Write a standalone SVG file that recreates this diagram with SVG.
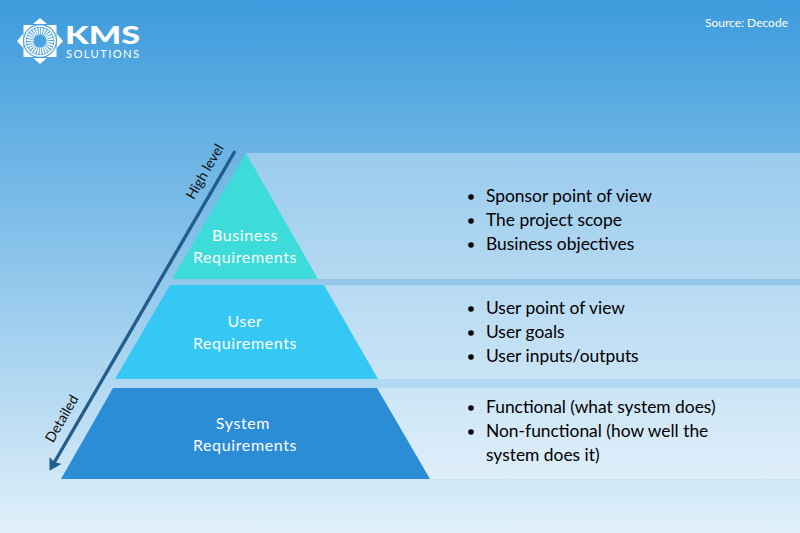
<svg xmlns="http://www.w3.org/2000/svg" width="800" height="533" viewBox="0 0 800 533">
  <style>
    .band { fill: #ffffff; fill-opacity: .32; }
    .tier { fill: #ffffff; font: 16px Lato, "Liberation Sans", sans-serif; text-anchor: middle; letter-spacing: .62px; }
    .item { fill: #000000; font: 17.4px Lato, "Liberation Sans", sans-serif; }
    .side { fill: #111111; font: 14px Lato, "Liberation Sans", sans-serif; text-anchor: middle; }
    .dot { fill: #000000; }
  </style>
  <defs>
    <linearGradient id="sky" x1="0" y1="0" x2="0" y2="1">
      <stop offset="0" stop-color="#3c9bdc"/>
      <stop offset="1" stop-color="#e0f0fa"/>
    </linearGradient>
    <marker id="head" markerUnits="userSpaceOnUse" markerWidth="14" markerHeight="16" refX="3" refY="7" orient="auto">
      <path d="M0 0L12 7L0 14L2 7Z" fill="#235d8c"/>
    </marker>
  </defs>
  <rect width="800" height="533" fill="url(#sky)"/>

  <g id="logo" fill="#ffffff">
    <path d="M40 18L47 24H33Z"/>
    <path d="M40 64L47 58H33Z"/>
    <path d="M17 41L23 34V48Z"/>
    <path d="M63 41L57 34V48Z"/>
    <rect x="23.5" y="25" width="33" height="32"/>
    <circle cx="40" cy="41" r="17" fill="#4ba2e0"/>
    <circle cx="40" cy="41" r="15" fill="none" stroke="#ffffff" stroke-width="1.6"/>
    <circle cx="40" cy="41" r="10" fill="none" stroke="#ffffff" stroke-width="7" stroke-dasharray="1.5 .9"/>
    <text x="65" y="43.5" font-family="Lato, 'Liberation Sans', sans-serif" font-size="24" font-weight="900" textLength="75" lengthAdjust="spacingAndGlyphs">KMS</text>
    <text x="66" y="57.5" font-family="Lato, 'Liberation Sans', sans-serif" font-size="11.2" textLength="73" lengthAdjust="spacing">SOLUTIONS</text>
  </g>

  <text x="705" y="27" fill="#ffffff" font-family="Lato, 'Liberation Sans', sans-serif" font-size="12">Source: Decode</text>

  <g id="bands">
    <rect class="band" x="246" y="153" width="554" height="126"/>
    <rect class="band" x="318" y="285" width="482" height="94"/>
    <rect class="band" x="378" y="388" width="422" height="91"/>
  </g>

  <g id="business">
    <path d="M246 153L318 279H172Z" fill="#3ddbd9"/>
    <text class="tier" x="245" y="241">Business</text>
    <text class="tier" x="245" y="263">Requirements</text>
    <circle class="dot" cx="471" cy="197" r="2.8"/>
    <circle class="dot" cx="471" cy="221" r="2.8"/>
    <circle class="dot" cx="471" cy="245" r="2.8"/>
    <text class="item" x="486" y="202">Sponsor point of view</text>
    <text class="item" x="486" y="226">The project scope</text>
    <text class="item" x="486" y="250">Business objectives</text>
  </g>

  <g id="user">
    <path d="M170 285H324L378 379H115Z" fill="#36c8f4"/>
    <text class="tier" x="245" y="327">User</text>
    <text class="tier" x="245" y="349">Requirements</text>
    <circle class="dot" cx="471" cy="309" r="2.8"/>
    <circle class="dot" cx="471" cy="333" r="2.8"/>
    <circle class="dot" cx="471" cy="357" r="2.8"/>
    <text class="item" x="486" y="314">User point of view</text>
    <text class="item" x="486" y="338">User goals</text>
    <text class="item" x="486" y="362">User inputs/outputs</text>
  </g>

  <g id="system">
    <path d="M113 388H377L430 479H61Z" fill="#2b8dd6"/>
    <text class="tier" x="243" y="429">System</text>
    <text class="tier" x="245" y="451">Requirements</text>
    <circle class="dot" cx="471" cy="408" r="2.8"/>
    <circle class="dot" cx="471" cy="432" r="2.8"/>
    <text class="item" x="486" y="413">Functional (what system does)</text>
    <text class="item" x="486" y="437">Non-functional (how well the</text>
    <text class="item" x="486" y="461">system does it)</text>
  </g>

  <g id="connectors">
    <line x1="235" y1="151" x2="54" y2="463" stroke="#235d8c" stroke-width="3.4" marker-end="url(#head)"/>
  </g>
  <text class="side" transform="translate(209 174) rotate(-60)">High level</text>
  <text class="side" transform="translate(66 421) rotate(-60)">Detailed</text>
</svg>
